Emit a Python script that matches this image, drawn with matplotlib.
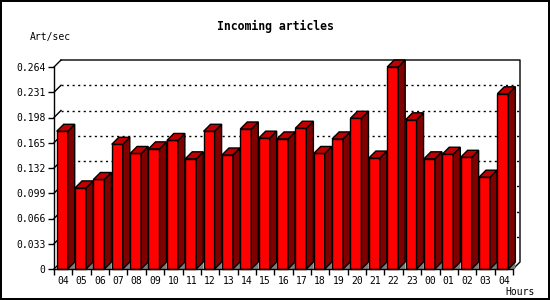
import numpy as np
import matplotlib
matplotlib.use("Agg")
import matplotlib.pyplot as plt
from matplotlib.patches import Polygon

# data
hours = ['04', '05', '06', '07', '08', '09', '10', '11', '12', '13', '14', '15', '16',
         '17', '18', '19', '20', '21', '22', '23', '00', '01', '02', '03', '04']
rate = [0.180, 0.106, 0.117, 0.163, 0.151, 0.157, 0.168, 0.144, 0.180, 0.149, 0.183, 0.171, 0.170,
        0.184, 0.151, 0.170, 0.197, 0.145, 0.264, 0.195, 0.144, 0.150, 0.146, 0.120, 0.229]
yticks = [0, 0.033, 0.066, 0.099, 0.132, 0.165, 0.198, 0.231, 0.264]
ytick_labels = ['0', '0.033', '0.066', '0.099', '0.132', '0.165', '0.198', '0.231', '0.264']

W, H = 550, 300
mono = 'DejaVu Sans Mono'

fig = plt.figure(figsize=(W / 100, H / 100), dpi=100)
fig.patch.set_facecolor('white')
fig.patch.set_edgecolor('black')
fig.patch.set_linewidth(1.5)

# front plot area in pixels
x0, x1, yb, yt = 54, 513, 269, 67
ax = fig.add_axes([x0 / W, 1 - yb / H, (x1 - x0) / W, (yb - yt) / H])
n = len(rate)
ymax = 0.264
ax.set_xlim(-0.5, n - 0.5)
ax.set_ylim(0, ymax)

# 3d depth in data units (7 px)
depth_px = 7
dx = depth_px * n / (x1 - x0)
dy = depth_px * ymax / (yb - yt)

# back wall grid + frame
for v in yticks[1:-1]:
    ax.plot([-0.5 + dx, n - 0.5 + dx], [v + dy, v + dy], color='black', lw=1,
            ls=(0, (1.5, 2.5)), zorder=1, clip_on=False)
kw = dict(color='black', lw=1, zorder=1, clip_on=False)
for v in yticks:
    ax.plot([-0.5, -0.5 + dx], [v, v + dy], **kw)
ax.plot([-0.5 + dx, n - 0.5 + dx, n - 0.5 + dx, n - 0.5],
        [ymax + dy, ymax + dy, dy, 0], **kw)

bw = 0.6
off = 0.147
for i, v in enumerate(rate):
    l = i - 0.5 + off
    r = l + bw
    front = Polygon([(l, 0), (r, 0), (r, v), (l, v)], closed=True,
                    facecolor='#ff0000', edgecolor='black', lw=1, zorder=3, clip_on=False)
    side = Polygon([(r, 0), (r + dx, dy), (r + dx, v + dy), (r, v)], closed=True,
                   facecolor='#800000', edgecolor='black', lw=1, zorder=3, clip_on=False)
    top = Polygon([(l, v), (r, v), (r + dx, v + dy), (l + dx, v + dy)], closed=True,
                  facecolor='#c00000', edgecolor='black', lw=1, zorder=3, clip_on=False)
    shadow = Polygon([(r, 0), (r + dx, dy), (r + dx, 0)], closed=True,
                     facecolor='#808080', edgecolor='none', zorder=2, clip_on=False)
    for p in (shadow, front, side, top):
        ax.add_patch(p)

for s in ('top', 'right'):
    ax.spines[s].set_visible(False)
for s in ('left', 'bottom'):
    ax.spines[s].set_linewidth(1)
    ax.spines[s].set_zorder(4)
ax.patch.set_alpha(0)

ax.set_yticks(yticks)
ax.set_yticklabels(ytick_labels, fontsize=7, family=mono)
ax.tick_params(axis='y', length=4, width=1, pad=2)

ax.set_xticks(np.arange(n))
ax.set_xticklabels(hours, fontsize=7, family=mono)
ax.set_xticks(np.arange(n + 1) - 0.5, minor=True)
ax.tick_params(axis='x', which='major', length=0, pad=5)
ax.tick_params(axis='x', which='minor', length=4, width=1)

fig.text(275 / W, 1 - 26.5 / H, 'Incoming articles', ha='center', va='center',
         fontsize=8.3, family=mono, fontweight='bold')
fig.text(30 / W, 1 - 37 / H, 'Art/sec', ha='left', va='center', fontsize=7, family=mono)
fig.text(505 / W, 1 - 292 / H, 'Hours', ha='left', va='center', fontsize=7, family=mono)

fig.savefig('out.png', dpi=100, facecolor=fig.get_facecolor(), edgecolor=fig.get_edgecolor())
